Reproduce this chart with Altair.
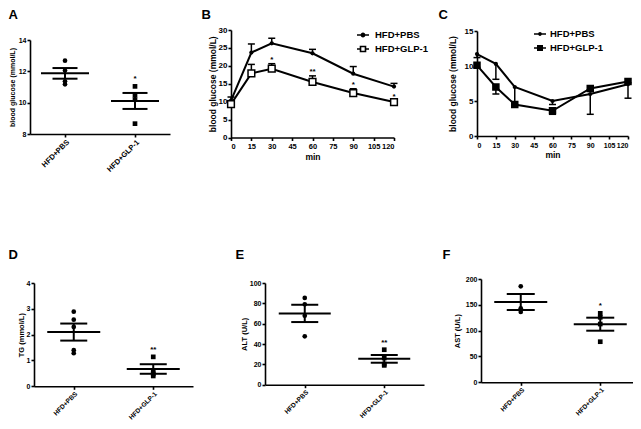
import altair as alt
import pandas as pd

W, H = 625, 413
FONT = "Liberation Sans"
GROUPS = ["HFD+PBS", "HFD+GLP-1"]
TIMES = [0, 15, 30, 60, 90, 120]
TIME_TICKS = [0, 15, 30, 45, 60, 75, 90, 105, 120]

# ---------------- data ----------------
# A: fasting blood glucose (mmol/L)
a_pbs = [12.68, 12.05, 11.36, 11.17]
a_glp = [11.04, 10.47, 10.19, 8.66]
a_mean = [11.87, 10.11]
a_sem = [0.34, 0.51]
a_star = ["", "*"]

# B: glucose tolerance (mmol/L)
b_pbs = [10.3, 23.7, 26.3, 23.5, 17.8, 14.2]
b_pbs_err = [1.0, 2.4, 1.4, 1.1, 2.0, 0.9]
b_glp = [9.3, 17.9, 19.2, 15.5, 12.4, 9.9]
b_glp_err = [1.0, 2.5, 1.4, 1.7, 1.2, 0.5]
b_star = ["", "", "*", "**", "*", "*"]

# C: insulin tolerance (mmol/L)
c_pbs = [11.7, 10.3, 7.0, 5.0, 6.0, 7.4]
c_pbs_err = [0.5, 2.2, 2.5, 0.5, 2.9, 2.0]
c_glp = [10.1, 7.0, 4.5, 3.6, 6.8, 7.8]
c_glp_err = [0.3, 1.0, 0.2, 0.5, 0.2, 0.2]

# D: TG (mmol/L)
d_pbs = [2.89, 2.58, 2.30, 1.40, 1.28]
d_glp = [1.14, 0.55, 0.48, 0.40]
d_mean = [2.10, 0.67]
d_sem = [0.33, 0.185]
d_star = ["", "**"]

# E: ALT (U/L)
e_pbs = [85.3, 79.0, 67.9, 47.6]
e_glp = [34.4, 26.2, 20.3, 19.0]
e_mean = [70.1, 25.4]
e_sem = [8.5, 3.8]
e_star = ["", "**"]

# F: AST (U/L)
f_pbs = [185.9, 143.3, 136.1]
f_glp = [133.5, 125.8, 112.8, 78.6]
f_mean = [155.5, 112.5]
f_sem = [15.5, 12.6]
f_star = ["", "*"]

# ---------------- styling helpers ----------------
AXIS_STYLE = dict(domainColor="black", domainWidth=1.6, tickColor="black", tickWidth=1.6,
                  tickSize=3, labelFont=FONT, labelFontWeight="bold", labelColor="black",
                  titleFont=FONT, titleFontWeight="bold", titleColor="black", grid=False)


def letter_axis(letter, lx, ly):
    return alt.Axis(orient="top", domain=False, ticks=False, labels=False, grid=False,
                    title=letter, titleX=lx, titleY=ly, titleAlign="left",
                    titleBaseline="top", titleAngle=0, titleFont=FONT, titleFontSize=13,
                    titleFontWeight="bold", titleColor="black")


def scatter_panel(letter, lxy, pbs, glp, mean, sem, star, ydom, yticks, xr, yr, ytitle,
                  lab_size, cat_size, title_size, title_pad, mean_len, cap_len):
    pts = pd.DataFrame({"group": [GROUPS[0]] * len(pbs) + [GROUPS[1]] * len(glp),
                        "value": pbs + glp})
    summ = pd.DataFrame({"group": GROUPS, "mean": mean, "sem": sem})
    stars = pd.DataFrame({"group": GROUPS, "top": [max(pbs), max(glp)], "star": star})
    xs = alt.Scale(type="point", domain=GROUPS, range=xr, padding=0.5)
    ys = alt.Scale(domain=ydom, range=yr, nice=False, zero=False)
    xh = alt.X("group:N", scale=xs, axis=None)
    xaxis = alt.Axis(orient="bottom", offset=yr[0] - H, labelAngle=315, labelFontSize=cat_size,
                     title=None, labelPadding=1, **AXIS_STYLE)
    yaxis = alt.Axis(orient="left", offset=-xr[0], values=yticks, labelFontSize=lab_size,
                     title=ytitle, titleFontSize=title_size, titlePadding=title_pad,
                     labelPadding=1, **AXIS_STYLE)
    points = alt.Chart(pts).mark_point(filled=True, color="black", opacity=1, size=22).encode(
        x=alt.X("group:N", scale=xs, axis=xaxis),
        y=alt.Y("value:Q", scale=ys, axis=yaxis),
        shape=alt.Shape("group:N", scale=alt.Scale(domain=GROUPS, range=["circle", "square"]),
                        legend=None),
    )
    sb = alt.Chart(summ).transform_calculate(lo="datum.mean - datum.sem",
                                             hi="datum.mean + datum.sem")
    mean_tick = sb.mark_tick(orient="horizontal", color="black", size=mean_len, thickness=2,
                             opacity=1).encode(
        x=alt.X("group:N", scale=xs, axis=letter_axis(letter, *lxy)),
        y=alt.Y("mean:Q", scale=ys, axis=None))
    sem_rule = sb.mark_rule(color="black", strokeWidth=2).encode(
        x=xh, y=alt.Y("lo:Q", scale=ys, axis=None), y2="hi:Q")
    cap_lo = sb.mark_tick(orient="horizontal", color="black", size=cap_len, thickness=2,
                          opacity=1).encode(x=xh, y=alt.Y("lo:Q", scale=ys, axis=None))
    cap_hi = sb.mark_tick(orient="horizontal", color="black", size=cap_len, thickness=2,
                          opacity=1).encode(x=xh, y=alt.Y("hi:Q", scale=ys, axis=None))
    star_t = alt.Chart(stars).mark_text(font=FONT, fontWeight="bold", fontSize=8, dy=-7,
                                        baseline="middle", color="black").encode(
        x=xh, y=alt.Y("top:Q", scale=ys, axis=None), text="star:N")
    return [points, mean_tick, sem_rule, cap_lo, cap_hi, star_t]


def line_panel(letter, lxy, pbs, pbs_err, glp, glp_err, stars, direction, ydom, yticks,
               xr, yr, glp_open, glp_size, legend_xy, leg_paths, title_pad, label_offset,
               xlab_size):
    df = pd.DataFrame({"time": TIMES * 2, "group": [GROUPS[0]] * 6 + [GROUPS[1]] * 6,
                       "value": pbs + glp, "err": pbs_err + glp_err,
                       "star": [""] * 6 + stars})
    xs = alt.Scale(domain=[0, 120], range=xr, nice=False, zero=False)
    ys = alt.Scale(domain=ydom, range=yr, nice=False, zero=False)
    xh = alt.X("time:Q", scale=xs, axis=None)
    xaxis = alt.Axis(orient="bottom", offset=yr[0] - H, values=TIME_TICKS, format="d",
                     labelFontSize=xlab_size, title="min", titleFontSize=8.5, titlePadding=2,
                     labelPadding=2, labelOverlap=False, **AXIS_STYLE)
    yaxis = alt.Axis(orient="left", offset=-xr[0], values=yticks, labelFontSize=8,
                     title="blood glucose (mmol/L)", titleFontSize=8.5, titlePadding=title_pad,
                     labelPadding=1, **AXIS_STYLE)
    line = alt.Chart(df).mark_line(color="black", strokeWidth=2).encode(
        x=alt.X("time:Q", scale=xs, axis=xaxis),
        y=alt.Y("value:Q", scale=ys, axis=yaxis),
        detail="group:N")
    eb = alt.Chart(df).transform_calculate(end=f"datum.value + ({direction}) * datum.err")
    rule = eb.mark_rule(color="black", strokeWidth=1.5).encode(
        x=alt.X("time:Q", scale=xs, axis=letter_axis(letter, *lxy)),
        y=alt.Y("value:Q", scale=ys, axis=None), y2="end:Q")
    cap = eb.mark_tick(orient="horizontal", color="black", size=7, thickness=1.5,
                       opacity=1).encode(x=xh, y=alt.Y("end:Q", scale=ys, axis=None))
    pbs_pts = alt.Chart(df).transform_filter(alt.datum.group == GROUPS[0]).mark_point(
        shape="circle", filled=True, color="black", size=18, opacity=1).encode(
        x=xh, y=alt.Y("value:Q", scale=ys, axis=None))
    glp_pts = alt.Chart(df).transform_filter(alt.datum.group == GROUPS[1]).mark_point(
        shape="square", filled=True, fill="white" if glp_open else "black", stroke="black",
        strokeWidth=1.5, size=glp_size, opacity=1).encode(
        x=xh, y=alt.Y("value:Q", scale=ys, axis=None))
    star_t = eb.transform_filter("datum.star != ''").mark_text(
        font=FONT, fontWeight="bold", fontSize=8, dy=-3.5, baseline="middle",
        color="black").encode(x=xh, y=alt.Y("end:Q", scale=ys, axis=None), text="star:N")
    legend = alt.Chart(df).mark_point(filled=True, color="black", opacity=0).encode(
        x=xh, y=alt.Y("value:Q", scale=ys, axis=None),
        shape=alt.Shape("group:N", scale=alt.Scale(domain=GROUPS, range=leg_paths),
                        legend=alt.Legend(orient="none", legendX=legend_xy[0],
                                          legendY=legend_xy[1], title=None, padding=0,
                                          symbolSize=144, symbolFillColor="black",
                                          symbolStrokeColor="black", symbolStrokeWidth=0,
                                          symbolOpacity=1, labelFont=FONT, labelFontSize=9.5,
                                          labelFontWeight="bold", labelColor="black",
                                          labelOffset=label_offset, rowPadding=3)))
    return [line, rule, cap, pbs_pts, glp_pts, star_t, legend]


# legend glyphs: a short bar with the marker in the middle (unit box -1..1)
def bars(gap):
    return (f"M-1,-0.14H-{gap}V0.14H-1Z"
            f"M{gap},-0.14H1V0.14H{gap}Z")


CIRC = bars(0.3) + "M0.4,0A0.4,0.4,0,1,1,-0.4,0A0.4,0.4,0,1,1,0.4,0Z"
CIRC_S = bars(0.25) + "M0.32,0A0.32,0.32,0,1,1,-0.32,0A0.32,0.32,0,1,1,0.32,0Z"
SQ_OPEN = bars(0.5) + "M-0.55,-0.55H0.55V0.55H-0.55ZM-0.28,-0.28V0.28H0.28V-0.28Z"
SQ_FILL = bars(0.4) + "M-0.5,-0.5H0.5V0.5H-0.5Z"

layers = []
layers += scatter_panel("A", (0, 0), a_pbs, a_glp, a_mean, a_sem, a_star, [8, 14],
                        [8, 10, 12, 14], [22, 162], [126, 32], "blood glucose (mmol/L)",
                        7, 7.5, 7, 3, 48, 25)
layers += line_panel("B", (193, 0), b_pbs, b_pbs_err, b_glp, b_glp_err, b_star, 1,
                     [0, 30], [0, 5, 10, 15, 20, 25, 30], [223, 386], [129.5, 22], True, 45,
                     (349, 21), [CIRC, SQ_OPEN], 1, 6, 7.5)
layers += line_panel("C", (430, 0), c_pbs, c_pbs_err, c_glp, c_glp_err,
                     ["", "", "", "", "", ""], -1, [0, 15], [0, 5, 10, 15], [469, 620],
                     [128, 23], False, 36, (526, 20), [CIRC_S, SQ_FILL], 7, 4, 7)
layers += scatter_panel("D", (0, 240), d_pbs, d_glp, d_mean, d_sem, d_star, [0, 4],
                        [0, 1, 2, 3, 4], [26, 185], [378.3, 275], "TG (mmol/L)",
                        7, 6.5, 7.5, 1, 53, 27)
layers += scatter_panel("E", (227, 240), e_pbs, e_glp, e_mean, e_sem, e_star, [0, 100],
                        [0, 20, 40, 60, 80, 100], [257, 416], [376.7, 275], "ALT (U/L)",
                        7, 6.5, 7.5, 1, 52, 27)
layers += scatter_panel("F", (434, 240), f_pbs, f_glp, f_mean, f_sem, f_star, [0, 200],
                        [0, 50, 100, 150, 200], [473, 632], [374.3, 271], "AST (U/L)",
                        7, 6.5, 7.5, 4, 53, 28)

chart = (
    alt.layer(*layers)
    .resolve_scale(x="independent", y="independent", shape="independent")
    .resolve_axis(x="independent", y="independent")
    .resolve_legend(shape="independent")
    .properties(width=W, height=H, autosize=alt.AutoSizeParams(type="none"), padding=0,
                background="white")
    .configure_view(stroke=None)
)

chart.save("out.html", embed_options={"renderer": "svg", "actions": False})
